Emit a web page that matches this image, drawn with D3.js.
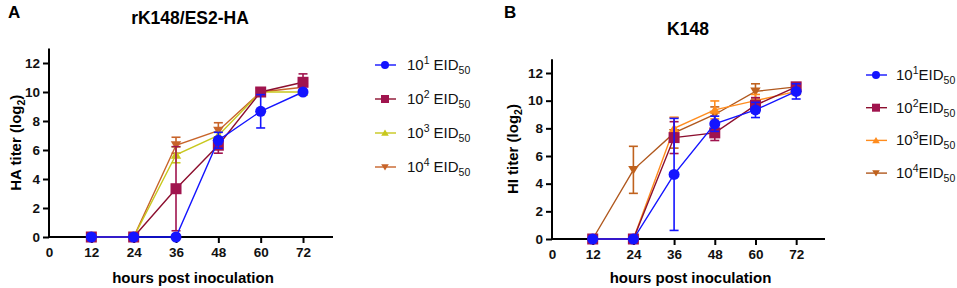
<!DOCTYPE html>
<html lang="en">
<head>
<meta charset="UTF-8">
<title>HA / HI titer</title>
<style>
  body { margin: 0; background: #fff; }
  svg { font-family: "Liberation Sans", Arial, sans-serif; }
</style>
</head>
<body>
<div id="chart"></div>
<script src="https://cdn.jsdelivr.net/npm/d3@7/dist/d3.min.js"></script>
<script>
// hours post inoculation
const hours = [12, 24, 36, 48, 60, 72];
const xTicks = [0, 12, 24, 36, 48, 60, 72];
const yTicks = [0, 2, 4, 6, 8, 10, 12];
const seriesNames = ["1", "2", "3", "4"]; // exponents of 10^n EID50

// panel A: rK148/ES2-HA, HA titer (log2)
const a1 = [0, 0, 0, 6.67, 8.67, 10.0];
const a1Err = [0, 0, 0, 0.55, 1.15, 0];
const a2 = [0, 0, 3.33, 6.33, 10.0, 10.67];
const a2Err = [0, 0, 2.9, 0.55, 0, 0.58];
const a3 = [0, 0, 5.67, 7.0, 10.0, 10.0];
const a3Err = [0, 0, 0.55, 0, 0, 0];
const a4 = [0, 0, 6.33, 7.33, 10.0, 10.33];
const a4Err = [0, 0, 0.55, 0.55, 0, 0];

// panel B: K148, HI titer (log2)
const b1 = [0, 0, 4.67, 8.33, 9.33, 10.67];
const b1Err = [0, 0, 4.05, 0.55, 0.55, 0.55];
const b2 = [0, 0, 7.33, 7.67, 9.67, 11.0];
const b2Err = [0, 0, 1.15, 0.55, 0.55, 0];
const b3 = [0, 0, 8.0, 9.33, 10.0, 10.67];
const b3Err = [0, 0, 0.8, 0.65, 0.45, 0];
const b4 = [0, 5.0, 7.67, 9.0, 10.67, 11.0];
const b4Err = [0, 1.7, 1.1, 0.55, 0.55, 0];

const colorsA = ["#1414ff", "#a0144e", "#c8c81e", "#c8642a"];
const lineColorsA = ["#1414ff", "#8c0f2f", "#c8c81e", "#c8642a"];
const colorsB = ["#1414ff", "#a0144e", "#ff8c1e", "#c0621e"];
const lineColorsB = ["#1414ff", "#8c0f2f", "#ff8c1e", "#b0581e"];
const symbols = ["circle", "square", "up", "down"];

const svg = d3.select("#chart").append("svg")
    .attr("width", 957).attr("height", 288);

function drawMarker(g, kind, color, x, y, s) {
    if (kind === "circle") {
        g.append("circle").attr("cx", x).attr("cy", y).attr("r", s).attr("fill", color);
    } else if (kind === "square") {
        g.append("rect").attr("x", x - s).attr("y", y - s)
            .attr("width", 2 * s).attr("height", 2 * s).attr("fill", color);
    } else {
        const d = kind === "up"
            ? `M0,${-s * 0.85}L${s * 0.95},${s * 0.7}L${-s * 0.95},${s * 0.7}Z`
            : `M0,${s * 0.85}L${s * 0.95},${-s * 0.7}L${-s * 0.95},${-s * 0.7}Z`;
        g.append("path").attr("d", d)
            .attr("transform", `translate(${x},${y})`).attr("fill", color);
    }
}

function drawPanel(cfg) {
    const g = svg.append("g");
    const x = d3.scaleLinear().domain([0, 80.5]).range([cfg.left, cfg.right]);
    const y = d3.scaleLinear().domain([0, 12]).range([cfg.bottom, cfg.top12]);
    const yMax = 13;

    // panel letter and title
    g.append("text").attr("x", cfg.letterX).attr("y", 18)
        .attr("font-size", 17).attr("font-weight", "bold").text(cfg.letter);
    g.append("text").attr("x", cfg.titleX).attr("y", cfg.titleY)
        .attr("text-anchor", "middle").attr("font-size", 17.5).attr("font-weight", "bold")
        .text(cfg.title);

    // axes
    const xAxis = g.append("g").attr("transform", `translate(0,${cfg.bottom})`)
        .call(d3.axisBottom(x).tickValues(xTicks).tickSize(6).tickPadding(4).tickSizeOuter(0));
    xAxis.select(".domain").attr("stroke-width", 2).attr("d", `M${cfg.left},0H${cfg.right}`);
    xAxis.selectAll(".tick line").attr("stroke-width", 2);
    xAxis.selectAll(".tick").filter(d => d === 0).select("line").remove();
    xAxis.selectAll("text").attr("font-size", 13.5).attr("font-weight", "bold")
        .attr("font-family", "Liberation Sans, Arial, sans-serif").attr("fill", "#111");

    const yAxis = g.append("g").attr("transform", `translate(${cfg.left},0)`)
        .call(d3.axisLeft(y).tickValues(yTicks).tickSize(6).tickPadding(3).tickSizeOuter(0));
    yAxis.select(".domain").attr("stroke-width", 2).attr("d", `M0,${y(yMax)}V${cfg.bottom}`);
    yAxis.selectAll(".tick line").attr("stroke-width", 2);
    yAxis.selectAll("text").attr("font-size", 13.5).attr("font-weight", "bold")
        .attr("font-family", "Liberation Sans, Arial, sans-serif").attr("fill", "#111");

    // axis labels
    g.append("text").attr("x", (cfg.left + cfg.right) / 2 + 2).attr("y", 283)
        .attr("text-anchor", "middle").attr("font-size", 15).attr("font-weight", "bold")
        .text("hours post inoculation");
    const yl = g.append("text")
        .attr("transform", `translate(${cfg.yLabelX},${(cfg.bottom + y(yMax)) / 2}) rotate(-90)`)
        .attr("text-anchor", "middle").attr("font-size", 15).attr("font-weight", "bold");
    yl.append("tspan").text(cfg.yLabel + " (log");
    yl.append("tspan").attr("font-size", 10.5).attr("dy", 4).text("2");
    yl.append("tspan").attr("dy", -4).text(")");

    // series (draw last series first so blue sits on top)
    const order = [3, 2, 1, 0];
    const line = d3.line().x(d => x(d[0])).y(d => y(d[1]));
    order.forEach(i => {
        const vals = cfg.values[i];
        const errs = cfg.errors[i];
        const pts = hours.map((h, k) => [h, vals[k]]);
        const sg = g.append("g");
        // error bars
        hours.forEach((h, k) => {
            if (errs[k] <= 0) return;
            const cx = x(h);
            const y0 = y(vals[k] - errs[k]);
            const y1 = y(vals[k] + errs[k]);
            sg.append("line").attr("x1", cx).attr("x2", cx).attr("y1", y0).attr("y2", y1)
                .attr("stroke", cfg.colors[i]).attr("stroke-width", 1.6);
            [y0, y1].forEach(yy => sg.append("line")
                .attr("x1", cx - 4.5).attr("x2", cx + 4.5).attr("y1", yy).attr("y2", yy)
                .attr("stroke", cfg.colors[i]).attr("stroke-width", 1.6));
        });
        sg.append("path").datum(pts).attr("d", line)
            .attr("fill", "none").attr("stroke", cfg.lineColors[i]).attr("stroke-width", 1.4);
        pts.forEach(p => drawMarker(sg, symbols[i], cfg.colors[i], x(p[0]), y(p[1]), 5.5));
    });

    // legend
    const lg = g.append("g");
    seriesNames.forEach((n, i) => {
        const yy = cfg.legendY + i * cfg.legendStep;
        lg.append("line").attr("x1", cfg.legendX - 10).attr("x2", cfg.legendX + 11)
            .attr("y1", yy).attr("y2", yy).attr("stroke", cfg.lineColors[i]).attr("stroke-width", 1.4);
        drawMarker(lg, symbols[i], cfg.colors[i], cfg.legendX, yy, 4);
        const t = lg.append("text").attr("x", cfg.legendTextX).attr("y", yy + 5)
            .attr("font-size", 15).attr("fill", "#111");
        t.append("tspan").text("10");
        t.append("tspan").attr("font-size", 10.5).attr("dy", -6).text(n);
        t.append("tspan").attr("dy", 6).attr("dx", cfg.legendGap).text("EID");
        t.append("tspan").attr("font-size", 10.5).attr("dy", 4).text("50");
    });
}

drawPanel({
    letter: "A", letterX: 8, title: "rK148/ES2-HA", titleX: 190, titleY: 24,
    left: 49, right: 333, bottom: 237, top12: 63,
    yLabel: "HA titer", yLabelX: 21,
    values: [a1, a2, a3, a4], errors: [a1Err, a2Err, a3Err, a4Err],
    colors: colorsA, lineColors: lineColorsA,
    legendX: 385, legendTextX: 407, legendY: 65, legendStep: 34, legendGap: 4
});

drawPanel({
    letter: "B", letterX: 504, title: "K148", titleX: 688, titleY: 35,
    left: 552, right: 825, bottom: 239, top12: 73,
    yLabel: "HI titer", yLabelX: 518,
    values: [b1, b2, b3, b4], errors: [b1Err, b2Err, b3Err, b4Err],
    colors: colorsB, lineColors: lineColorsB,
    legendX: 876, legendTextX: 896, legendY: 75, legendStep: 32.7, legendGap: 0
});
</script>
</body>
</html>
